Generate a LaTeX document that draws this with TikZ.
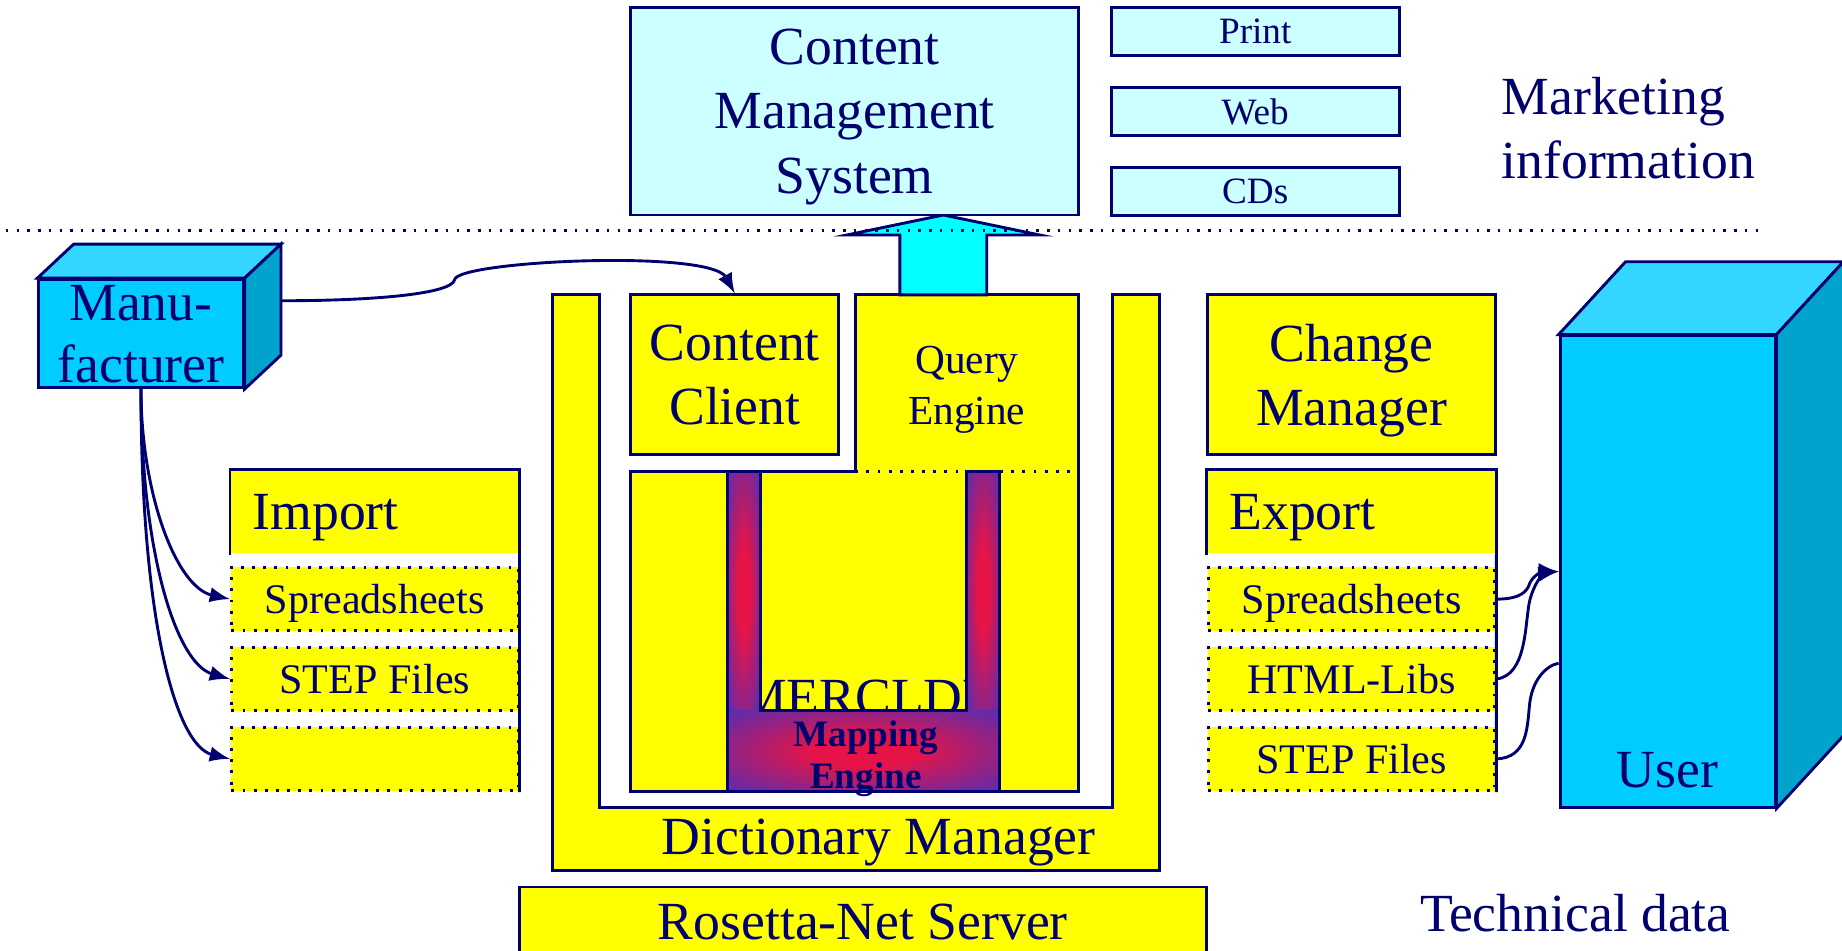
\documentclass[tikz,border=0pt]{standalone}
\usepackage{fontspec}
\setmainfont{Liberation Serif}
\usepackage{tikz}
\definecolor{navy}{RGB}{0,0,110}
\definecolor{boxyellow}{RGB}{255,255,0}
\definecolor{lightcyan}{RGB}{204,255,255}
\definecolor{arrowcyan}{RGB}{0,255,255}
\definecolor{boxfront}{RGB}{0,204,255}
\definecolor{boxtop}{RGB}{51,214,255}
\definecolor{boxside}{RGB}{0,163,204}
\definecolor{mapblue}{RGB}{51,51,204}
\definecolor{mapred}{RGB}{230,20,70}
\pgfdeclareradialshading{mapglow}{\pgfpoint{0bp}{0bp}}{color(0bp)=(mapred); color(9bp)=(mapred); color(27bp)=(mapblue!55!mapred); color(43bp)=(mapblue); color(70bp)=(mapblue)}

\begin{document}
\begin{tikzpicture}[>=latex, x=0.1mm, y=-0.1mm, line width=0.7pt,
	every node/.style={text=navy, inner sep=0pt, text depth=0pt},
	big/.style={font=\fontsize{13}{15.6}\selectfont},
	ybox/.style={draw=navy, fill=boxyellow, align=center, big},
	cbox/.style={draw=navy, fill=lightcyan, align=center},
	media/.style={cbox, font=\fontsize{9}{10}\selectfont, minimum width=24.5mm, minimum height=4.1mm},
	hdr/.style={fill=boxyellow, minimum height=7mm, text width=20.8mm, inner xsep=1.8mm, align=left, big},
	row/.style={draw=navy, dotted, fill=boxyellow, minimum width=24.4mm, minimum height=5.4mm, font=\fontsize{10.2}{12}\selectfont}]
		\useasboundingbox (0,0) rectangle (1568,809);
		% dictionary manager
		\draw[navy, fill=boxyellow] (470,251) -- (510,251) -- (510,687) -- (947,687) -- (947,251) -- (987,251) -- (987,741) -- (470,741) -- cycle;
		\node[big] (dm) at (748,712) {Dictionary Manager};
		\node[ybox, minimum width=17.7mm, minimum height=13.6mm] (cc) at (625.5,319) {Content\\Client};
		\draw[navy, fill=boxyellow] (728,251) -- (918,251) -- (918,674) -- (537,674) -- (537,401) -- (728,401) -- cycle;
		\draw[navy, dotted] (728,401) -- (918,401);
		\node[align=center, font=\fontsize{10}{12.2}\selectfont] (qe) at (823,328) {Query\\Engine};
		% mapping engine
		\shade[shading=mapglow] (619,401) rectangle (647,605);
		\shade[shading=mapglow] (823,401) rectangle (851,605);
		\shade[shading=mapglow] (619,605) rectangle (851,674);
		\begin{scope}
		\clip (647,401) rectangle (823,605);
		\node[big, anchor=base] (merc) at (737,609) {MERCLDF};
		\end{scope}
		\draw[navy] (619,401) -- (647,401) -- (647,605) -- (823,605) -- (823,401) -- (851,401) -- (851,674) -- (619,674) -- cycle;
		\node[align=center, font=\fontsize{9}{10.2}\selectfont\bfseries] (me) at (737,642) {Mapping\\Engine};
		% marketing side
		\draw[navy, fill=arrowcyan] (766,251) -- (766,200) -- (721,200) -- (803,183) -- (885,200) -- (840,200) -- (840,251) -- cycle;
		\node[cbox, big, minimum width=38.1mm, minimum height=17.7mm] (cms) at (727.5,94.5) {Content\\Management\\System};
		\node[media] (print) at (1068.5,26.5) {Print};
		\node[media] (web) at (1068.5,95) {Web};
		\node[media] (cds) at (1068.5,163) {CDs};
		\node[big, align=left, anchor=west] (mkt) at (1277,109) {Marketing\\information};
		\draw[navy, dotted, line width=0.6pt] (5,196) -- (1503,196);
		% manufacturer and import
		\node[draw=navy, fill=boxfront, font=\fontsize{13}{15}\selectfont, align=center, minimum width=17.4mm, minimum height=9.2mm] (mfr) at (120,284) {Manu-\\facturer};
		\draw[navy, fill=boxtop] (mfr.north west) -- ++(31,-29) -- ([shift={(31,-29)}]mfr.north east) -- (mfr.north east) -- cycle;
		\draw[navy, fill=boxside] (mfr.north east) -- ++(31,-29) -- ([shift={(31,-29)}]mfr.south east) -- (mfr.south east) -- cycle;
		\node[hdr] (imp) at (319,436) {Import};
		\draw[navy] (imp.south west) -- (imp.north west) -- (imp.north east) -- (imp.south east);
		\node[row] (imp1) at (319,510) {Spreadsheets};
		\node[row] (imp2) at (319,578) {STEP Files};
		\node[row] (imp3) at (319,646) {};
		\draw[navy] (imp.south east) -- (imp3.south east);
		\foreach \r/\a/\b in {imp1/420/500, imp2/470/565, imp3/530/635}
			\draw[navy, ->] (mfr.south) .. controls (120,\a) and (150,\b) .. (\r.west);
		\coordinate (mfrout) at ([shift={(31,-28)}]mfr.east);
		\draw[navy, ->] (mfrout) .. controls (320,256) and (385,250) .. (387,238) .. controls (390,222) and (605,212) .. (cc.north);
		% change manager, export and user
		\node[ybox, minimum width=24.5mm, minimum height=13.6mm] (chm) at (1150.5,319) {Change\\Manager};
		\node[hdr] (exp) at (1150.5,436) {Export};
		\draw[navy] (exp.south west) -- (exp.north west) -- (exp.north east) -- (exp.south east);
		\node[row] (exp1) at (1150.5,510) {Spreadsheets};
		\node[row] (exp2) at (1150.5,578) {HTML-Libs};
		\node[row] (exp3) at (1150.5,646) {STEP Files};
		\draw[navy] (exp.south east) -- (exp3.south east);
		\node[draw=navy, fill=boxfront, minimum width=18.3mm, minimum height=40.1mm, label={[big, anchor=base, yshift=1.8mm]south:User}] (user) at (1419.5,486.5) {};
		\draw[navy, fill=boxtop] (user.north west) -- ++(57,-62) -- ([shift={(57,-62)}]user.north east) -- (user.north east) -- cycle;
		\draw[navy, fill=boxside] (user.north east) -- ++(57,-62) -- ([shift={(57,-62)}]user.south east) -- (user.south east) -- cycle;
		\draw[navy, ->] (exp1.east) .. controls (1295,510) and (1300,503) .. (1302,497) .. controls (1305,489) and (1315,486) .. (user.west);
		\draw[navy, ->] (exp2.east) .. controls (1300,575) and (1298,530) .. (1302,512) .. controls (1306,495) and (1315,488) .. (user.west);
		\coordinate (userin) at ([yshift=-7.8mm]user.west);
		\draw[navy] (exp3.east) .. controls (1300,645) and (1300,620) .. (1302,600) .. controls (1304,580) and (1315,567) .. (userin);
		% bottom
		\node[ybox, minimum width=58.5mm, minimum height=6mm] (rns) at (734.5,785) {Rosetta-Net Server};
		\node[big] (tech) at (1341,777) {Technical data};
		\end{tikzpicture}
\end{document}
